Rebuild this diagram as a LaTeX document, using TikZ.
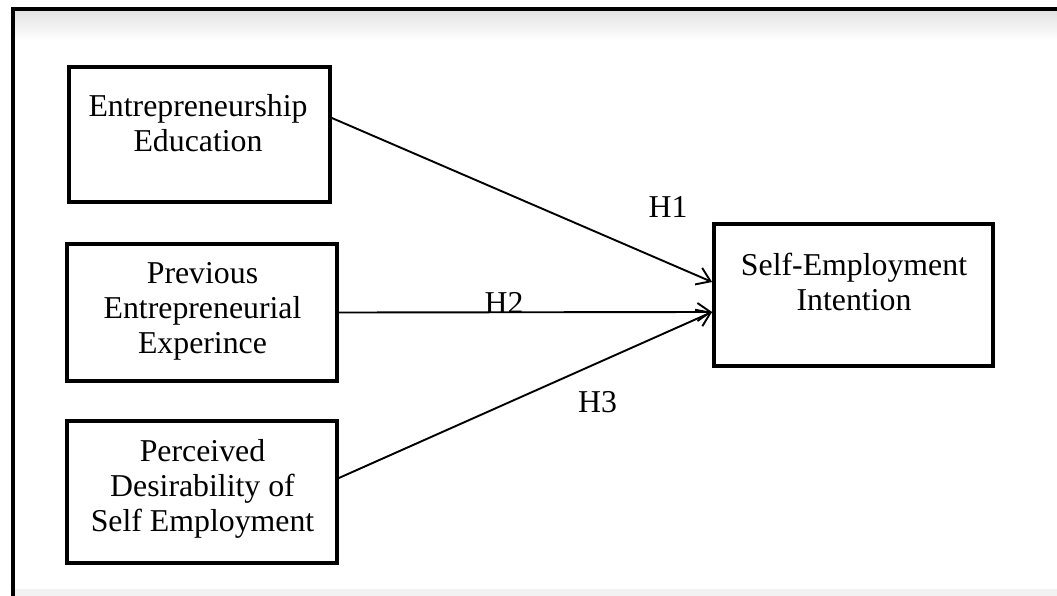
\documentclass[tikz,border=0pt]{standalone}
\usepackage{fontspec}
\setmainfont{Liberation Serif}
\usetikzlibrary{arrows.meta}
\begin{document}
\begin{tikzpicture}[x=1pt,y=-1pt,
  box/.style={draw, line width=3.8pt, inner sep=0pt},
  txt/.style={font=\fontsize{31.8}{35}\selectfont, align=center, inner sep=0pt, anchor=north},
  hyp/.style={font=\fontsize{31.8}{35}\selectfont, inner sep=0pt},
  link/.style={line width=1.9pt, -{Straight Barb[length=13pt,width=18pt,line width=1.9pt]}}]
\useasboundingbox (0,0) rectangle (1057,596);

% faint scan shading along the top and bottom edges
\shade[top color=gray!22, bottom color=white] (14,11) rectangle (1057,40);
\fill[gray!10] (14,589) rectangle (1057,596);

% outer frame (left and top only)
\draw[line width=4pt] (12.5,596) -- (12.5,9.5) -- (1057,9.5);

% boxes
\node[box, minimum width=261pt, minimum height=135pt] (b1) at (199.5,134.5) {};
\node[box, minimum width=270pt, minimum height=137pt] (b2) at (202,312.5) {};
\node[box, minimum width=270pt, minimum height=142pt] (b3) at (202,492) {};
\node[box, minimum width=279pt, minimum height=142pt] (t) at (853.5,295) {};

% box texts
\node[txt] (t1) at (198,94.5) {Entrepreneurship\\Education};
\node[txt] (t2) at (202.5,262) {Previous\\Entrepreneurial\\Experince};
\node[txt] (t3) at (202.5,439.5) {Perceived\\Desirability of\\Self Employment};
\node[txt] (t4) at (854,252.5) {Self-Employment\\Intention};

% hypothesised paths
\draw[link] ([yshift=16.5pt]b1.east) -- ([yshift=13pt]t.west);
\draw[link] (b2.east) -- ([yshift=-17pt]t.west);
\draw[link] ([yshift=14pt]b3.east) -- ([yshift=-17pt]t.west);

% path labels
\node[hyp] (h1) at (668,207) {H1};
\node[hyp] (h2) at (504,303) {H2};
\node[hyp] (h3) at (597.5,402.5) {H3};
\end{tikzpicture}
\end{document}
